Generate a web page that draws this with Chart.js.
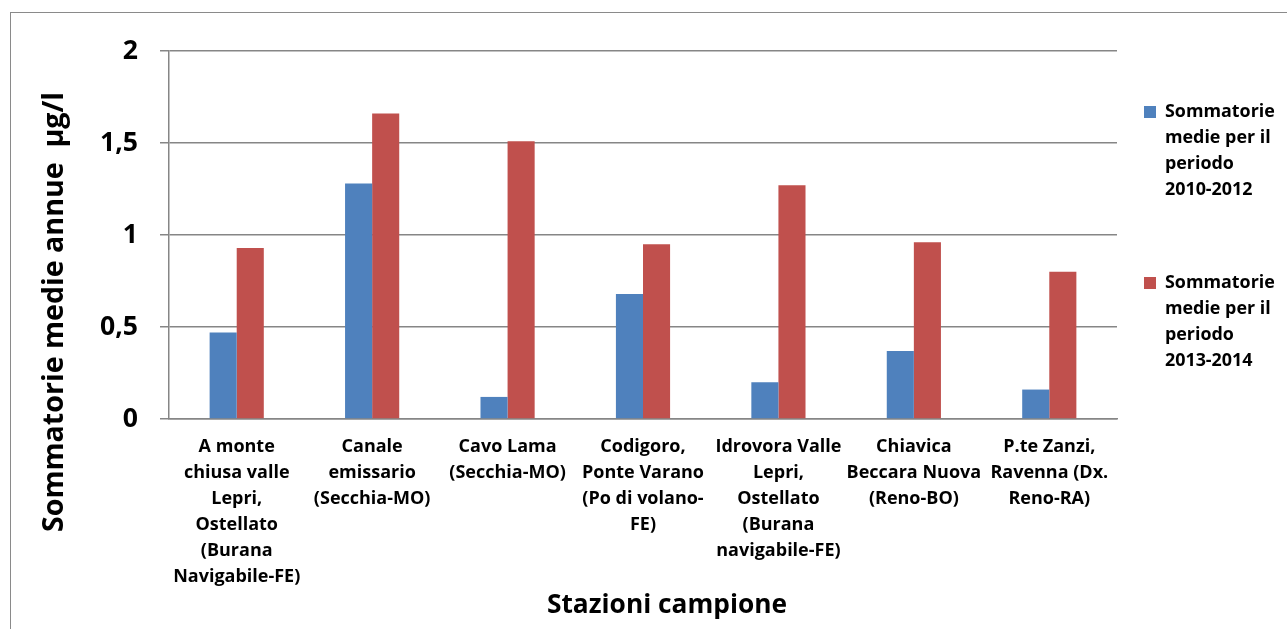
<!DOCTYPE html>
<html>
<head>
<meta charset="utf-8">
<script src="https://cdn.jsdelivr.net/npm/chart.js@4.4.1/dist/chart.umd.min.js"></script>
<style>
html,body{margin:0;padding:0;background:#fff;}
#wrap{position:relative;width:1287px;height:629px;overflow:hidden;}
#frame{position:absolute;left:10px;top:12px;width:1290px;height:630px;border-left:1px solid #8a8a8a;border-top:1px solid #8a8a8a;}
canvas{position:absolute;left:0;top:0;}
</style>
</head>
<body>
<div id="wrap"><div id="frame"></div><canvas id="c" width="1287" height="629"></canvas></div>
<script>
// ---- data ----
const categories = [
  ['A monte','chiusa valle','Lepri,','Ostellato','(Burana','Navigabile-FE)'],
  ['Canale','emissario','(Secchia-MO)'],
  ['Cavo Lama','(Secchia-MO)'],
  ['Codigoro,','Ponte Varano','(Po di volano-','FE)'],
  ['Idrovora Valle','Lepri,','Ostellato','(Burana','navigabile-FE)'],
  ['Chiavica','Beccara Nuova','(Reno-BO)'],
  ['P.te Zanzi,','Ravenna (Dx.','Reno-RA)']
];
const series1Name = 'Sommatorie medie per il periodo 2010-2012';
const series2Name = 'Sommatorie medie per il periodo 2013-2014';
const series1Lines = ['Sommatorie','medie per il','periodo','2010-2012'];
const series2Lines = ['Sommatorie','medie per il','periodo','2013-2014'];
const values2010_2012 = [0.47, 1.28, 0.12, 0.68, 0.20, 0.37, 0.16];
const values2013_2014 = [0.93, 1.66, 1.51, 0.95, 1.27, 0.96, 0.80];
const yTickValues = [0, 0.5, 1, 1.5, 2];
const yTitle = 'Sommatorie medie annue  \u00b5g/l';
const xTitle = 'Stazioni campione';

// ---- style ----
const FONT = '"Open Sans"';
const GRID = '#868686';
const BLUE = '#4F81BD';
const RED = '#C0504D';
const legendLineH = 26;
const legendPad = 15;

function fitSize(text, targetWidth){
  const m = document.createElement('canvas').getContext('2d');
  m.font = 'bold 100px ' + FONT;
  return Math.round(100 * targetWidth / m.measureText(text).width * 10) / 10;
}

function build(){
  const catSize = fitSize('Navigabile-FE)', 127);
  const legSize = fitSize('Sommatorie', 110);
  const yTickSize = fitSize('1,5', 38);
  const yTitleSize = fitSize(yTitle, 440);
  const xTitleSize = fitSize(xTitle, 240);

  const mctx = document.createElement('canvas').getContext('2d');
  mctx.font = 'bold ' + legSize + 'px ' + FONT;
  const longest = series1Lines.concat(series2Lines).reduce((a,b)=>a.length>b.length?a:b);
  const tw = mctx.measureText(longest).width;
  const legendW = legendPad + 12 + legSize/2 + tw + 10;
  const plotRight = 1117, gap = 12, plotTop = 51;
  const padRight = 1287 - plotRight - gap - legendW;
  const titlePadTop = 112 - legSize/2 - plotTop - 10 - legendPad;

  const axisTitles = {
    id: 'axisTitles',
    afterDraw(chart){
      const ctx = chart.ctx;
      ctx.save();
      ctx.fillStyle = '#000';
      ctx.textAlign = 'center';
      ctx.textBaseline = 'alphabetic';
      ctx.font = 'bold ' + xTitleSize + 'px ' + FONT;
      ctx.fillText(xTitle, 667, 613);
      ctx.translate(63, 312);
      ctx.rotate(-Math.PI/2);
      ctx.font = 'bold ' + yTitleSize + 'px ' + FONT;
      ctx.fillText(yTitle, 0, 0);
      ctx.restore();
    }
  };

  new Chart(document.getElementById('c'), {
    type: 'bar',
    data: {
      labels: categories,
      datasets: [
        {label: series1Name, data: values2010_2012, backgroundColor: BLUE, borderWidth: 0, barPercentage: 1.0, categoryPercentage: 0.4},
        {label: series2Name, data: values2013_2014, backgroundColor: RED, borderWidth: 0, barPercentage: 1.0, categoryPercentage: 0.4}
      ]
    },
    plugins: [axisTitles],
    options: {
      responsive: false,
      animation: false,
      layout: {padding: {top: plotTop, left: 0, bottom: 0, right: padRight}},
      plugins: {
        tooltip: {enabled: false},
        legend: {
          position: 'right',
          align: 'start',
          title: {display: true, text: ' ', font: {size: 10, lineHeight: '10px'}, padding: {top: titlePadTop, bottom: 0}},
          labels: {
            color: '#000',
            boxWidth: 12, boxHeight: 12,
            padding: legendPad,
            font: {family: FONT, weight: 'bold', size: legSize, lineHeight: legendLineH + 'px'},
            generateLabels(chart){
              const items = Chart.defaults.plugins.legend.labels.generateLabels(chart);
              const lines = [series1Lines, series2Lines];
              items.forEach((it, i) => {
                const t = lines[i].slice();
                if (i < items.length - 1) { t.push('', ''); }
                it.text = t;
                it.lineWidth = 0;
                it.strokeStyle = 'rgba(0,0,0,0)';
              });
              return items;
            }
          }
        }
      },
      scales: {
        x: {
          grid: {display: false, drawTicks: false},
          border: {display: true, color: GRID, width: 1.5},
          ticks: {
            color: '#000', maxRotation: 0, minRotation: 0, autoSkip: false, padding: 15,
            font: {family: FONT, weight: 'bold', size: catSize, lineHeight: '26px'}
          },
          afterFit(s){ s.height = 629 - 419; }
        },
        y: {
          min: 0, max: 2,
          grid: {color: GRID, lineWidth: 1.5, tickLength: 9, drawTicks: true},
          border: {display: true, color: GRID, width: 1.5},
          afterBuildTicks(s){ s.ticks = yTickValues.map(v => ({value: v})); },
          ticks: {
            color: '#000', padding: 22,
            font: {family: FONT, weight: 'bold', size: yTickSize},
            callback: v => String(v).replace('.', ',')
          },
          afterFit(s){ s.width = 169; }
        },
        y2: {
          position: 'right', display: true,
          grid: {display: false, drawTicks: false},
          border: {display: false},
          ticks: {display: false},
          afterFit(s){ s.width = gap; }
        }
      }
    }
  });
}
if (document.fonts && document.fonts.load) {
  Promise.all([
    document.fonts.load('bold 16px "Open Sans"')
  ]).then(build, build);
} else { build(); }
</script>
</body>
</html>
